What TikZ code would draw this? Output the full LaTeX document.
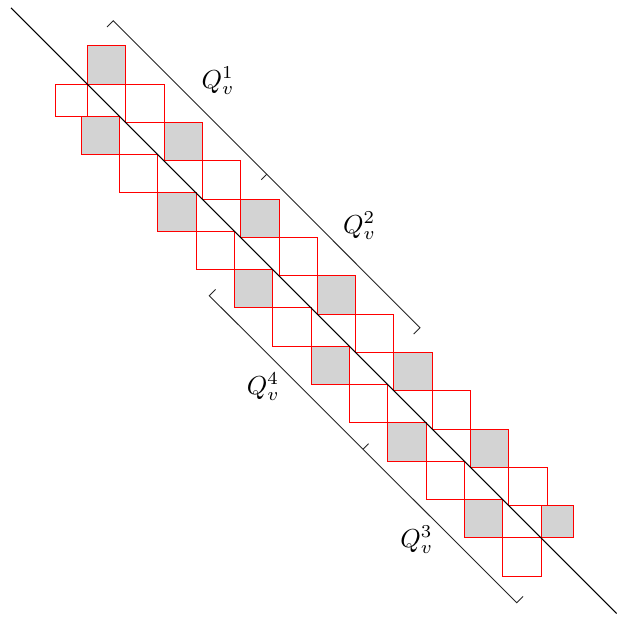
\documentclass[tikz,border=0pt]{standalone}
\usetikzlibrary{calc}
\begin{document}
\begin{tikzpicture}[x=1pt,y=-1pt,
  sq/.style={draw=red, line width=0.9pt},
  graysq/.style={sq, fill={rgb,255:red,211;green,211;blue,211}},
  mainline/.style={draw=black, line width=1.1pt},
  brk/.style={draw=black!85, line width=0.9pt},
  lab/.style={scale=2.6, inner sep=0pt}]
\useasboundingbox (0,0) rectangle (617,621);
\pgfmathsetmacro{\s}{38.33}
\pgfmathsetmacro{\d}{6.3}
\pgfmathsetmacro{\c}{3.2}
\pgfmathsetmacro{\az}{87.3}
% A squares (above the line), bottom-left corner on the line
\foreach \k in {0,...,11}{
  \pgfmathsetmacro{\xa}{\az+\s*\k}
  \pgfmathsetmacro{\isodd}{mod(\k,2)}
  \ifdim\isodd pt=0pt
    \path[graysq] (\xa,\xa-\c-\s) rectangle (\xa+\s,\xa-\c);
  \else
    \path[sq] (\xa,\xa-\c-\s) rectangle (\xa+\s,\xa-\c);
  \fi
}
% B squares (below the line), top-right corner on the line
\foreach \k in {0,...,11}{
  \pgfmathsetmacro{\xb}{\az+\s*(\k+1)-\d}
  \pgfmathsetmacro{\isodd}{mod(\k,2)}
  \ifdim\isodd pt=0pt
    \path[graysq] (\xb-\s,\xb-\c) rectangle (\xb,\xb-\c+\s);
  \else
    \path[sq] (\xb-\s,\xb-\c) rectangle (\xb,\xb-\c+\s);
  \fi
}
% small end squares
\pgfmathsetmacro{\t}{\s-\d}
\path[sq] (\az-\t,\az-\c) rectangle (\az,\az-\c+\t);
\pgfmathsetmacro{\xe}{\az+12*\s-\d}
\path[graysq] (\xe,\xe-\c-\t) rectangle (\xe+\t,\xe-\c);
% main line
\coordinate (m0) at (11,7.8);
\coordinate (m1) at (616.7,613.5);
\draw[mainline] (m0) -- (m1);
% upper bracket
\coordinate (u0) at (113.3,20.7);
\coordinate (um) at (266.7,174.2);
\coordinate (u1) at (420,327.7);
\draw[brk] ($(u0)+(-6.3,6.3)$) -- (u0) -- (u1) -- ($(u1)+(-6.3,6.3)$);
\draw[brk] (um) -- ($(um)+(-5.5,5.5)$);
% lower bracket
\coordinate (l0) at (209.3,295.7);
\coordinate (lm) at (363,449.2);
\coordinate (l1) at (516.7,602.7);
\draw[brk] ($(l0)+(6.3,-6.3)$) -- (l0) -- (l1) -- ($(l1)+(6.3,-6.3)$);
\draw[brk] (lm) -- ($(lm)+(5.5,-5.5)$);
% labels
\node[lab] (q1) at (218,81) {$Q_v^1$};
\node[lab] (q2) at (359.5,226) {$Q_v^2$};
\node[lab] (q4) at (263.3,386.7) {$Q_v^4$};
\node[lab] (q3) at (416.7,540) {$Q_v^3$};
\end{tikzpicture}
\end{document}
